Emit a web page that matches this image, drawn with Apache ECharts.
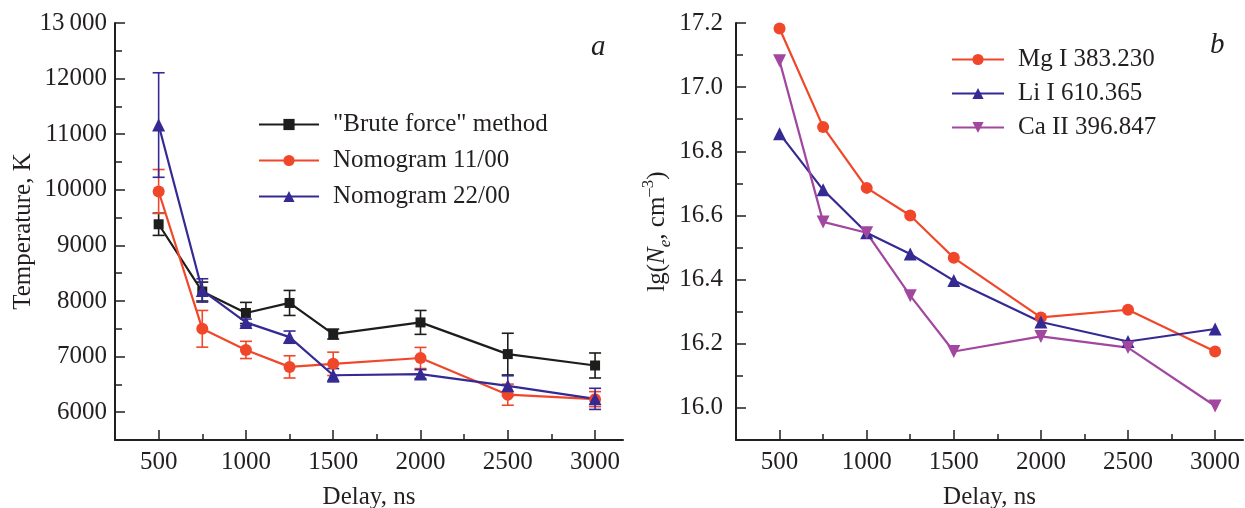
<!DOCTYPE html>
<html>
<head>
<meta charset="utf-8">
<script src="https://cdn.jsdelivr.net/npm/echarts@6/dist/echarts.min.js"></script>
<style>
  html, body { margin: 0; padding: 0; background: #fff; }
  #chart { width: 1245px; height: 508px; }
</style>
</head>
<body>
<div id="chart"></div>
<script>
// delays, ns
var delays = [500, 750, 1000, 1250, 1500, 2000, 2500, 3000];

// panel a: temperature, K
var bruteT = [9380, 8170, 7785, 7965, 7405, 7615, 7045, 6840];
var bruteErr = [200, 170, 190, 225, 90, 215, 375, 225];
var nomo11T = [9970, 7500, 7120, 6815, 6870, 6975, 6315, 6235];
var nomo11Err = [395, 330, 155, 200, 210, 190, 190, 135];
var nomo22T = [11165, 8190, 7615, 7350, 6665, 6685, 6475, 6240];
var nomo22Err = [940, 210, 60, 110, 120, 80, 180, 190];

// panel b: lg(Ne, cm^-3)
var mgNe = [17.183, 16.876, 16.686, 16.600, 16.468, 16.282, 16.306, 16.176];
var liNe = [16.855, 16.680, 16.546, 16.480, 16.397, 16.268, 16.207, 16.246];
var caNe = [17.082, 16.580, 16.546, 16.350, 16.176, 16.223, 16.188, 16.006];

// ticks
var xMajor = [500, 1000, 1500, 2000, 2500, 3000];
var xMinor = [750, 1250, 1750, 2250, 2750];
var tMajor = [6000, 7000, 8000, 9000, 10000, 11000, 12000, 13000];
var tMinor = [6500, 7500, 8500, 9500, 10500, 11500, 12500];
var nMajor = [16.0, 16.2, 16.4, 16.6, 16.8, 17.0, 17.2];
var nMinor = [16.1, 16.3, 16.5, 16.7, 16.9, 17.1];

var FONT = '"Liberation Serif", "DejaVu Serif", serif';
var INK = '#231f20';
var BLACK = '#1d1d1b', RED = '#f0472a', BLUE = '#352a93', PURPLE = '#a2479f';

var chart = echarts.init(document.getElementById('chart'));

function pairs(ys) {
  return delays.map(function (d, i) { return [d, ys[i]]; });
}
function errRows(ys, es) {
  return delays.map(function (d, i) { return [d, ys[i] - es[i], ys[i] + es[i]]; });
}

function errSeries(ys, es, color) {
  return {
    type: 'custom',
    xAxisIndex: 0,
    yAxisIndex: 0,
    data: errRows(ys, es),
    encode: { x: 0, y: [1, 2] },
    z: 1,
    silent: true,
    renderItem: function (params, api) {
      var x = api.value(0);
      var lo = api.coord([x, api.value(1)]);
      var hi = api.coord([x, api.value(2)]);
      var w = 6;
      var st = { stroke: color, lineWidth: 1.6 };
      return {
        type: 'group',
        children: [
          { type: 'line', shape: { x1: lo[0], y1: lo[1], x2: hi[0], y2: hi[1] }, style: st },
          { type: 'line', shape: { x1: hi[0] - w, y1: hi[1], x2: hi[0] + w, y2: hi[1] }, style: st },
          { type: 'line', shape: { x1: lo[0] - w, y1: lo[1], x2: lo[0] + w, y2: lo[1] }, style: st }
        ]
      };
    }
  };
}

function lineSeries(name, ys, color, symbol, size, xi, yi, rot) {
  return {
    name: name,
    type: 'line',
    xAxisIndex: xi,
    yAxisIndex: yi,
    data: pairs(ys),
    symbol: symbol,
    symbolSize: size,
    symbolRotate: rot || 0,
    showAllSymbol: true,
    z: 3,
    lineStyle: { color: color, width: 2.2 },
    itemStyle: { color: color },
    emphasis: { disabled: true }
  };
}

function majorX(grid) {
  return {
    type: 'value', gridIndex: grid, min: 250, max: 3160,
    name: 'Delay, ns', nameLocation: 'middle', nameGap: 45,
    nameTextStyle: { fontFamily: FONT, fontSize: 25, color: INK },
    axisLine: { show: true, lineStyle: { color: INK, width: 2 } },
    axisTick: { show: true, inside: true, length: 10, customValues: xMajor, lineStyle: { color: INK, width: 1.5 } },
    axisLabel: {
      customValues: xMajor, margin: 10, fontFamily: FONT, fontSize: 25, color: INK,
      formatter: function (v) { return String(v); }
    },
    splitLine: { show: false }
  };
}
function minorX(grid) {
  return {
    type: 'value', gridIndex: grid, min: 250, max: 3160, position: 'bottom',
    axisLine: { show: false },
    axisTick: { show: true, inside: true, length: 6, customValues: xMinor, lineStyle: { color: INK, width: 1.5 } },
    axisLabel: { show: false },
    splitLine: { show: false }
  };
}
function minorY(grid, min, max, vals) {
  return {
    type: 'value', gridIndex: grid, min: min, max: max, position: 'left',
    axisLine: { show: false },
    axisTick: { show: true, inside: true, length: 7, customValues: vals, lineStyle: { color: INK, width: 1.5 } },
    axisLabel: { show: false },
    splitLine: { show: false }
  };
}

var option = {
  animation: false,
  backgroundColor: '#fff',
  textStyle: { fontFamily: FONT },
  title: [
    { text: 'a', left: 586, top: 28, textStyle: { fontFamily: FONT, fontStyle: 'italic', fontWeight: 'normal', fontSize: 29, color: INK } },
    { text: 'b', left: 1205, top: 26, textStyle: { fontFamily: FONT, fontStyle: 'italic', fontWeight: 'normal', fontSize: 29, color: INK } }
  ],
  grid: [
    { left: 115, width: 508, top: 23, bottom: 68, outerBoundsMode: 'none', containLabel: false },
    { left: 736, width: 507, top: 23, bottom: 68, outerBoundsMode: 'none', containLabel: false }
  ],
  legend: [
    {
      data: ['"Brute force" method', 'Nomogram 11/00', 'Nomogram 22/00'],
      orient: 'vertical', left: 253, top: 107,
      itemWidth: 60, itemHeight: 14, itemGap: 11,
      textStyle: { fontFamily: FONT, fontSize: 25, color: INK, padding: [0, 0, 0, 9] }
    },
    {
      data: ['Mg I 383.230', 'Li I 610.365', 'Ca II 396.847'],
      orient: 'vertical', left: 946, top: 42,
      itemWidth: 52, itemHeight: 14, itemGap: 9,
      textStyle: { fontFamily: FONT, fontSize: 25, color: INK, padding: [0, 0, 0, 9] }
    }
  ],
  xAxis: [majorX(0), minorX(0), majorX(1), minorX(1)],
  yAxis: [
    {
      type: 'value', gridIndex: 0, min: 5500, max: 13000,
      name: 'Temperature, K', nameLocation: 'middle', nameGap: 66,
      nameTextStyle: { fontFamily: FONT, fontSize: 25, color: INK },
      axisLine: { show: true, lineStyle: { color: INK, width: 2 } },
      axisTick: { show: true, inside: true, length: 10, customValues: tMajor, lineStyle: { color: INK, width: 1.5 } },
      axisLabel: {
        customValues: tMajor, margin: 8, fontFamily: FONT, fontSize: 25, color: INK,
        formatter: function (v) { return v === 13000 ? '13\u2009000' : String(v); }
      },
      splitLine: { show: false }
    },
    minorY(0, 5500, 13000, tMinor),
    {
      type: 'value', gridIndex: 1, min: 15.9, max: 17.2,
      name: '{n|lg(}{i|N}{sub|e}{n|, cm}{sup|\u20133}{n|)}', nameLocation: 'middle', nameGap: 62,
      nameTextStyle: {
        fontFamily: FONT, fontSize: 25, color: INK, lineHeight: 34,
        rich: {
          n: { fontFamily: FONT, fontSize: 25, color: INK, verticalAlign: 'middle' },
          i: { fontFamily: FONT, fontSize: 25, fontStyle: 'italic', color: INK, verticalAlign: 'middle' },
          sub: { fontFamily: FONT, fontSize: 17, fontStyle: 'italic', color: INK, verticalAlign: 'bottom' },
          sup: { fontFamily: FONT, fontSize: 17, color: INK, verticalAlign: 'top' }
        }
      },
      axisLine: { show: true, lineStyle: { color: INK, width: 2 } },
      axisTick: { show: true, inside: true, length: 10, customValues: nMajor, lineStyle: { color: INK, width: 1.5 } },
      axisLabel: {
        customValues: nMajor, margin: 13, fontFamily: FONT, fontSize: 25, color: INK,
        formatter: function (v) { return v.toFixed(1); }
      },
      splitLine: { show: false }
    },
    minorY(1, 15.9, 17.2, nMinor)
  ],
  series: [
    errSeries(bruteT, bruteErr, BLACK),
    errSeries(nomo11T, nomo11Err, RED),
    errSeries(nomo22T, nomo22Err, BLUE),
    lineSeries('"Brute force" method', bruteT, BLACK, 'rect', 10, 0, 0),
    lineSeries('Nomogram 11/00', nomo11T, RED, 'circle', 12, 0, 0),
    lineSeries('Nomogram 22/00', nomo22T, BLUE, 'triangle', 13, 0, 0),
    lineSeries('Mg I 383.230', mgNe, RED, 'circle', 12, 2, 2),
    lineSeries('Li I 610.365', liNe, BLUE, 'triangle', 13, 2, 2),
    lineSeries('Ca II 396.847', caNe, PURPLE, 'triangle', 13, 2, 2, 180)
  ]
};

chart.setOption(option);
</script>
</body>
</html>
